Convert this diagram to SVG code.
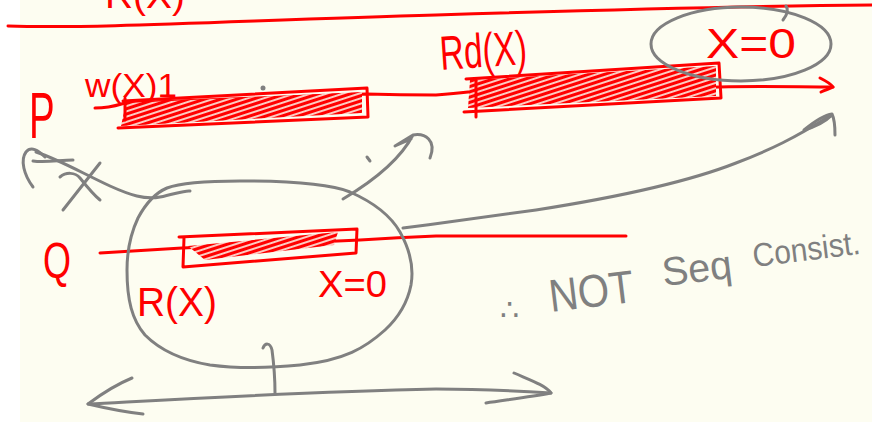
<svg xmlns="http://www.w3.org/2000/svg" width="872" height="422" viewBox="0 0 872 422">
<style>
.r{fill:none;stroke:#FF0000;stroke-width:3;stroke-linecap:round;stroke-linejoin:round}
.g{fill:none;stroke:#808080;stroke-width:3;stroke-linecap:round;stroke-linejoin:round}
.rt{fill:#FF0000;font-family:"Liberation Sans","DejaVu Sans",sans-serif}
.gt{fill:#808080;font-family:"Liberation Sans","DejaVu Sans",sans-serif}
</style>
<defs>
<pattern id="hatch" width="5" height="5" patternUnits="userSpaceOnUse" patternTransform="rotate(-18)">
<rect width="5" height="5" fill="#FDFDF1"/>
<line x1="0" y1="2.5" x2="5" y2="2.5" stroke="#FF0000" stroke-width="3.4"/>
</pattern>
</defs>
<rect width="872" height="422" fill="#FDFDF1"/>
<rect width="20" height="422" fill="#FFFFFF"/>

<g id="top-label">
<text class="rt" x="105" y="8" font-size="36" textLength="80" lengthAdjust="spacingAndGlyphs">R(X)</text>
<path class="r" stroke-width="2.2" d="M8,26 C100,29 250,20 436,15 C600,10 750,6 872,5"/>
</g>

<g id="p-timeline">
<text class="rt" font-size="64" transform="translate(29,138) scale(0.6,1)">P</text>
<path class="r" d="M95,108 C110,108 118,105 125,103 L366,94 C400,95 420,95 436,95 C450,94 460,93 468,92 L720,87 C760,86 800,87 833,87"/>
<path class="r" d="M820,78 C826,81 831,84 833,87 C829,89 825,90 821,92"/>
</g>

<g id="w-box">
<text class="rt" x="85" y="97" font-size="34" textLength="92" lengthAdjust="spacingAndGlyphs">w(X)1</text>
<polygon points="126,103 362,92 362,113 121,126" fill="url(#hatch)"/>
<path class="r" d="M123,101 L367,88 L368,117 L118,128"/>
<path class="r" d="M125,98 L125,120"/>
</g>

<g id="rd-box">
<text class="rt" x="441" y="70" font-size="48" textLength="87" lengthAdjust="spacingAndGlyphs" transform="rotate(-4 441 70)">Rd(X)</text>
<polygon points="470,80 716,66 716,96 468,108" fill="url(#hatch)"/>
<path class="r" d="M466,79 L719,63 L721,98 L464,112"/>
<path class="r" d="M476,80 L476,117"/>
</g>

<g id="x0-top">
<text class="rt" x="706" y="58" font-size="42" textLength="90" lengthAdjust="spacingAndGlyphs">X=0</text>
<ellipse class="g" cx="741" cy="44" rx="90" ry="37"/>
<path class="g" stroke-width="2" d="M783,20 C787,15 789,10 786,6"/>
</g>

<g id="q-timeline">
<text class="rt" font-size="50" transform="translate(43,278) scale(0.72,1)">Q</text>
<path class="r" d="M100,253 L182,248 L360,240 C390,238 410,237 436,236 L626,236"/>
</g>

<g id="r-box">
<polygon points="188,246 338,232 334,245 205,260" fill="url(#hatch)"/>
<path class="r" d="M179,237 L357,229 L356,253 L183,267 L184,238"/>
<text class="rt" x="137" y="316" font-size="40" textLength="80" lengthAdjust="spacingAndGlyphs">R(X)</text>
</g>

<g id="x0-bottom">
<text class="rt" x="318" y="297" font-size="36" textLength="69" lengthAdjust="spacingAndGlyphs">X=0</text>
</g>

<g id="blob">
<path class="g" stroke-width="2.5" d="M138,218 C145,205 155,193 167,188 C180,183 200,181 240,181 C290,181 330,184 350,192 C375,203 392,218 400,232 C410,250 414,268 411,285 C407,305 398,318 385,330 C365,348 345,360 300,365 C270,368 240,369 210,365 C180,360 160,350 145,335 C132,320 127,300 127,270 C127,250 130,235 138,218"/>
</g>

<g id="conclusion">
<g transform="rotate(-7 551 312)">
<text class="gt" x="551" y="312" font-size="46" textLength="85" lengthAdjust="spacingAndGlyphs">NOT</text>
<text class="gt" x="666" y="300" font-size="40" textLength="70" lengthAdjust="spacingAndGlyphs">Seq</text>
<text class="gt" x="758" y="292" font-size="33" textLength="108" lengthAdjust="spacingAndGlyphs">Consist.</text>
</g>
<text class="gt" x="500" y="320" font-size="30">∴</text>
</g>

<g id="connectors">
<circle cx="263" cy="88" r="2.5" fill="#808080"/>
<path class="g" stroke-width="2" d="M367,157 L370,161"/>
<path class="g" d="M33,187 C24,175 20,160 26,152 C31,146 38,150 45,157"/>
<path class="g" d="M33,161 C45,163 60,160 73,160"/>
<path class="g" d="M36,152 C60,160 80,172 110,186 C130,195 145,200 160,197 C175,194 185,190 190,191"/>
<path class="g" d="M60,177 C66,172 75,172 80,178 C88,188 95,196 100,200"/>
<path class="g" d="M100,163 L63,210"/>
<path class="g" d="M343,199 C375,180 400,160 413,135 L395,146 L411,139 M413,135 C425,133 437,140 430,158"/>
<path class="g" d="M403,228 C450,222 500,215 536,210 C600,200 680,185 736,163 C770,150 795,138 831,115"/>
<path class="g" d="M804,130 C815,121 824,115 832,114 C835,120 835,128 835,135 M804,130 C815,127 826,121 832,115"/>
<path class="g" d="M88,404 C200,398 300,392 436,389 C480,389 520,391 551,393"/>
<path class="g" d="M132,378 C115,385 100,395 88,404 C105,408 125,412 143,414"/>
<path class="g" d="M514,373 C530,380 545,385 551,393 C530,397 505,400 486,403"/>
<path class="g" d="M263,348 C265,343 270,342 272,350 C274,365 275,380 275,393"/>
</g>
</svg>
